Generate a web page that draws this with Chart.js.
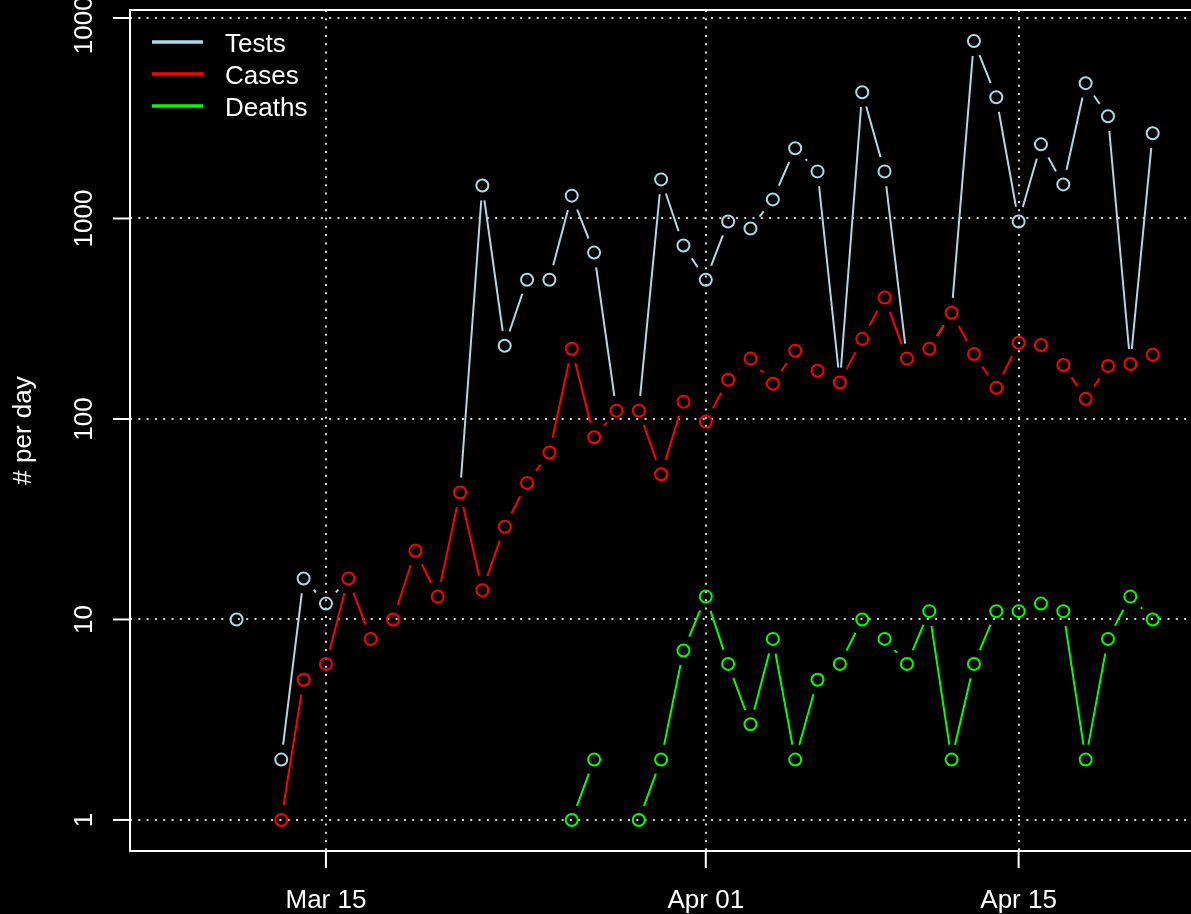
<!DOCTYPE html>
<html>
<head>
<meta charset="utf-8">
<title>Tests, cases and deaths per day</title>
<script src="https://cdn.jsdelivr.net/npm/chart.js@4.4.0/dist/chart.umd.min.js"></script>
<style>
  html, body { margin: 0; padding: 0; background: #000; overflow: hidden; }
  #wrap { width: 1200px; height: 914px; }
</style>
</head>
<body>
<div id="wrap"><canvas id="myChart" width="1200" height="914"></canvas></div>
<script>
// one entry per day, Mar 11 .. Apr 21 (2020)
const dates = [
  '2020-03-11','2020-03-12','2020-03-13','2020-03-14','2020-03-15','2020-03-16','2020-03-17',
  '2020-03-18','2020-03-19','2020-03-20','2020-03-21','2020-03-22','2020-03-23','2020-03-24',
  '2020-03-25','2020-03-26','2020-03-27','2020-03-28','2020-03-29','2020-03-30','2020-03-31',
  '2020-04-01','2020-04-02','2020-04-03','2020-04-04','2020-04-05','2020-04-06','2020-04-07',
  '2020-04-08','2020-04-09','2020-04-10','2020-04-11','2020-04-12','2020-04-13','2020-04-14',
  '2020-04-15','2020-04-16','2020-04-17','2020-04-18','2020-04-19','2020-04-20','2020-04-21'
];
const tests = [
  10, null, 2, 16, 12, 16, null,
  null, null, null, 43, 1460, 232, 495,
  495, 1300, 676, 110, 110, 1567, 733,
  495, 966, 891, 1245, 2239, 1718, 152,
  4266, 1718, 200, 224, 339, 7674, 4027,
  966, 2344, 1479, 4732, 3236, 188, 2661
];
const cases = [
  null, null, 1, 5, 6, 16, 8,
  10, 22, 13, 43, 14, 29, 48,
  68, 224, 81, 110, 110, 53, 122,
  97, 157, 200, 150, 219, 174, 152,
  251, 403, 200, 224, 339, 211, 143,
  240, 234, 186, 126, 184, 188, 209
];
const deaths = [
  null, null, null, null, null, null, null,
  null, null, null, null, null, null, null,
  null, 1, 2, null, 1, 2, 7,
  13, 6, 3, 8, 2, 5, 6,
  10, 8, 6, 11, 2, 6, 11,
  11, 12, 11, 2, 8, 13, 10
];
const seriesNames = ['Tests', 'Cases', 'Deaths'];
const seriesColors = ['#ADD8E6', '#FF0000', '#00FF00'];
const yTicks = [1, 10, 100, 1000, 10000];
const xTickDates = ['2020-03-15', '2020-04-01', '2020-04-15'];
const xTickLabels = ['Mar 15', 'Apr 01', 'Apr 15'];

const day0 = Date.parse('2020-03-15');
function dayOf(d) { return Math.round((Date.parse(d) - day0) / 864e5); }

const FONT = '26px "Liberation Sans", Arial, sans-serif';

function pts(vals) {
  return dates.map((d, i) => ({ x: dayOf(d), y: vals[i] }));
}

// R type="b": lines stop short of each point
const gapPlugin = {
  id: 'gaps',
  beforeDatasetDraw(chart, args) {
    const ds = chart.data.datasets[args.index];
    if (!ds.gapRadius) return;
    const ctx = chart.ctx;
    ctx.save();
    args.meta.data.forEach(p => {
      if (p.skip) return;
      ctx.beginPath();
      ctx.rect(0, 0, chart.width, chart.height);
      ctx.moveTo(p.x + ds.gapRadius, p.y);
      ctx.arc(p.x, p.y, ds.gapRadius, 0, Math.PI * 2);
      ctx.clip('evenodd');
    });
  },
  afterDatasetDraw(chart, args) {
    const ds = chart.data.datasets[args.index];
    if (ds.gapRadius) chart.ctx.restore();
  }
};

const gridPlugin = {
  id: 'rgrid',
  beforeDatasetsDraw(chart) {
    const ctx = chart.ctx, a = chart.chartArea;
    const xs = chart.scales.x, ys = chart.scales.y;
    ctx.save();
    ctx.strokeStyle = '#D3D3D3';
    ctx.lineWidth = 2;
    ctx.setLineDash([2, 6.3]);
    yTicks.forEach(v => {
      const y = Math.round(ys.getPixelForValue(v));
      ctx.beginPath(); ctx.moveTo(a.left, y); ctx.lineTo(a.right, y); ctx.stroke();
    });
    xTickDates.forEach(d => {
      const x = Math.round(xs.getPixelForValue(dayOf(d)));
      ctx.beginPath(); ctx.moveTo(x, a.top); ctx.lineTo(x, a.bottom); ctx.stroke();
    });
    ctx.restore();
  },
  afterDraw(chart) {
    const ctx = chart.ctx, a = chart.chartArea;
    const xs = chart.scales.x, ys = chart.scales.y;
    ctx.save();
    ctx.strokeStyle = '#fff';
    ctx.fillStyle = '#fff';
    ctx.lineWidth = 2;
    ctx.strokeRect(a.left, a.top, a.right - a.left, a.bottom - a.top);
    ctx.font = FONT;

    // y axis ticks and rotated labels
    yTicks.forEach(v => {
      const y = ys.getPixelForValue(v);
      ctx.beginPath(); ctx.moveTo(a.left - 17, y); ctx.lineTo(a.left, y); ctx.stroke();
      ctx.save();
      ctx.translate(92, y);
      ctx.rotate(-Math.PI / 2);
      ctx.textAlign = 'center';
      ctx.textBaseline = 'alphabetic';
      ctx.fillText(String(v), 0, 0);
      ctx.restore();
    });

    // x axis ticks and labels
    xTickDates.forEach((d, i) => {
      const x = xs.getPixelForValue(dayOf(d));
      ctx.beginPath(); ctx.moveTo(x, a.bottom); ctx.lineTo(x, a.bottom + 17); ctx.stroke();
      ctx.textAlign = 'center';
      ctx.textBaseline = 'alphabetic';
      ctx.fillText(xTickLabels[i], x, 908);
    });

    // y title
    ctx.save();
    ctx.translate(31, (a.top + a.bottom) / 2);
    ctx.rotate(-Math.PI / 2);
    ctx.textAlign = 'center';
    ctx.fillText('# per day', 0, 0);
    ctx.restore();

    // legend
    seriesNames.forEach((name, i) => {
      const y = 42 + i * 32;
      ctx.strokeStyle = seriesColors[i];
      ctx.lineWidth = 3.5;
      ctx.beginPath(); ctx.moveTo(152, y); ctx.lineTo(203, y); ctx.stroke();
      ctx.fillStyle = '#fff';
      ctx.textAlign = 'left';
      ctx.fillText(name, 225, y + 10);
    });
    ctx.restore();
  }
};

const allSeries = [tests, cases, deaths];
const datasets = [];
allSeries.forEach((vals, i) => {
  datasets.push({
    label: seriesNames[i],
    data: pts(vals),
    borderColor: seriesColors[i],
    borderWidth: 2,
    pointRadius: 0,
    showLine: true,
    spanGaps: false,
    tension: 0,
    gapRadius: 15,
    order: 10 - i * 2
  });
  datasets.push({
    label: seriesNames[i] + ' points',
    data: pts(vals),
    borderColor: seriesColors[i],
    backgroundColor: 'rgba(0,0,0,0)',
    // a tests circle sitting exactly under a cases circle is left out (no fringe)
    pointRadius: c => (i === 0 && tests[c.dataIndex] === cases[c.dataIndex]) ? 0 : 6,
    pointBorderWidth: 2,
    pointBorderColor: seriesColors[i],
    pointBackgroundColor: 'rgba(0,0,0,0)',
    showLine: false,
    order: 9 - i * 2
  });
});

const ctx = document.getElementById('myChart');
const grafica = new Chart(ctx, {
  type: 'line',
  data: { datasets: datasets },
  options: {
    responsive: false,
    animation: false,
    devicePixelRatio: 1,
    layout: { padding: { left: 130, top: 10, right: 7, bottom: 63 } },
    plugins: { legend: { display: false }, tooltip: { enabled: false } },
    scales: {
      x: { type: 'linear', min: -8.77, max: 38.76, display: false },
      y: { type: 'logarithmic', min: Math.pow(10, -0.155), max: Math.pow(10, 4.04), display: false }
    }
  },
  plugins: [gapPlugin, gridPlugin]
});
</script>
</body>
</html>
